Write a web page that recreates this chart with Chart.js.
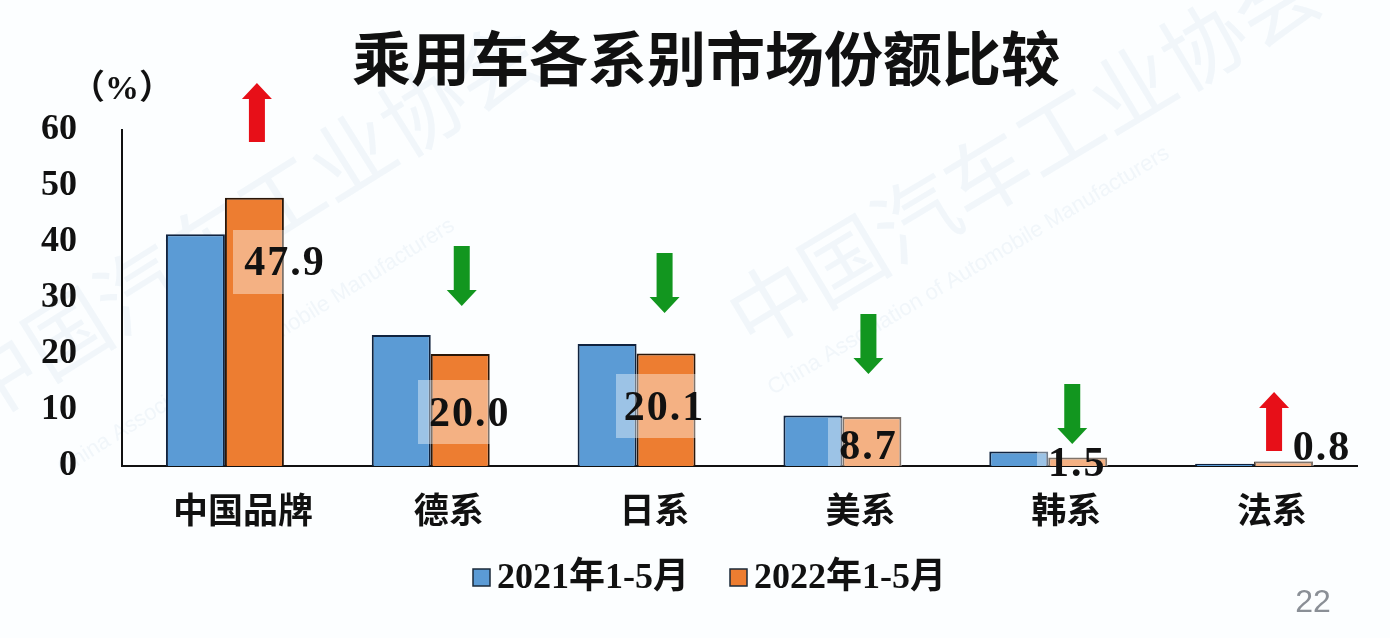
<!DOCTYPE html>
<html>
<head>
<meta charset="utf-8">
<title>乘用车各系别市场份额比较</title>
<script src="https://cdn.jsdelivr.net/npm/chart.js@4"></script>
<style>
  body { margin: 0; background: #fcfeff; }
  canvas { display: block; }
</style>
</head>
<body>
<canvas id="shareChart" width="1390" height="638"></canvas>
<script>
const categories = ["中国品牌", "德系", "日系", "美系", "韩系", "法系"];
const share2021 = [41.4, 23.4, 21.8, 9.0, 2.6, 0.4];
const share2022 = [47.9, 20.0, 20.1, 8.7, 1.5, 0.8];
const trend = ["up", "down", "down", "down", "down", "up"];
const seriesNames = ["2021年1-5月", "2022年1-5月"];
const yTicks = [0, 10, 20, 30, 40, 50, 60];

const BLUE = "#5b9bd5";
const ORANGE = "#ed7d31";
const FONT_SERIF = '"Liberation Serif", "Noto Sans CJK SC"';

// offsets from each category centre (px) for the hand placed callouts
const labelSpots = [
  { dx: 60, y: 264, box: [233, 230, 52, 64] },
  { dx: 39, y: 415, box: [418, 380, 72, 64] },
  { dx: 28, y: 409, box: [616, 374, 80, 64] },
  { dx: 26, y: 448, box: [828, 418, 74, 48] },
  { dx: 29, y: 465, box: [1037, 450, 71, 16] },
  { dx: 68, y: 449, box: [1255, 462, 59, 4] },
];
const arrowSpots = [
  { dx: 32, top: 83, bottom: 142 },
  { dx: 31, top: 246, bottom: 306 },
  { dx: 28, top: 253, bottom: 313 },
  { dx: 26, top: 314, bottom: 374 },
  { dx: 24, top: 384, bottom: 444 },
  { dx: 20, top: 392, bottom: 451 },
];
const legendSpots = [
  { swatch: 473, text: 497, color: BLUE },
  { swatch: 730, text: 754, color: ORANGE },
];

function drawArrow(ctx, x, top, bottom, dir) {
  const shaft = 8, head = 15, headH = 16;
  ctx.fillStyle = dir === "up" ? "#e70f18" : "#12961f";
  ctx.beginPath();
  if (dir === "up") {
    ctx.moveTo(x, top);
    ctx.lineTo(x + head, top + headH);
    ctx.lineTo(x + shaft, top + headH);
    ctx.lineTo(x + shaft, bottom);
    ctx.lineTo(x - shaft, bottom);
    ctx.lineTo(x - shaft, top + headH);
    ctx.lineTo(x - head, top + headH);
  } else {
    ctx.moveTo(x, bottom);
    ctx.lineTo(x + head, bottom - headH);
    ctx.lineTo(x + shaft, bottom - headH);
    ctx.lineTo(x + shaft, top);
    ctx.lineTo(x - shaft, top);
    ctx.lineTo(x - shaft, bottom - headH);
    ctx.lineTo(x - head, bottom - headH);
  }
  ctx.closePath();
  ctx.fill();
}

function drawWatermark(ctx, text, x, y, angle, font, color) {
  ctx.save();
  ctx.translate(x, y);
  ctx.rotate(angle);
  ctx.font = font;
  ctx.fillStyle = color;
  ctx.textAlign = "left";
  ctx.textBaseline = "middle";
  ctx.fillText(text, 0, 0);
  ctx.restore();
}

const backdrop = {
  id: "backdrop",
  beforeDraw(chart) {
    const ctx = chart.ctx;
    const big = '84px "Noto Sans CJK SC"';
    const small = '22px "Liberation Sans"';
    const pale = "rgba(214,228,240,0.3)";
    ctx.save();
    ctx.fillStyle = "#fcfeff";
    ctx.fillRect(0, 0, chart.width, chart.height);
    drawWatermark(ctx, "中国汽车工业协会", -40, 400, -0.56, big, pale);
    drawWatermark(ctx, "中国汽车工业协会", 735, 325, -0.54, big, pale);
    drawWatermark(ctx, "China Association of Automobile Manufacturers", 770, 390, -0.54, small, pale);
    drawWatermark(ctx, "China Association of Automobile Manufacturers", 60, 470, -0.56, small, pale);
    ctx.restore();
  },
};

const callouts = {
  id: "callouts",
  afterDatasetsDraw(chart) {
    const ctx = chart.ctx;
    const x = chart.scales.x;
    ctx.save();

    labelSpots.forEach((spot) => {
      ctx.fillStyle = "rgba(255,255,255,0.4)";
      ctx.fillRect(spot.box[0], spot.box[1], spot.box[2], spot.box[3]);
    });

    arrowSpots.forEach((spot, i) => {
      drawArrow(ctx, x.getPixelForValue(i) + spot.dx, spot.top, spot.bottom, trend[i]);
    });

    ctx.font = "bold 42px " + FONT_SERIF;
    ctx.letterSpacing = "2px";
    ctx.fillStyle = "#111";
    ctx.textAlign = "center";
    ctx.textBaseline = "middle";
    share2022.forEach((v, i) => {
      ctx.fillText(v.toFixed(1), x.getPixelForValue(i) + labelSpots[i].dx, labelSpots[i].y);
    });
    ctx.letterSpacing = "0px";

    ctx.font = 'bold 59px "Noto Sans CJK SC"';
    ctx.fillText("乘用车各系别市场份额比较", 706, 59);

    ctx.font = "bold 34px " + FONT_SERIF;
    ctx.fillText("（%）", 122, 90);

    ctx.textAlign = "left";
    ctx.font = "bold 36px " + FONT_SERIF;
    legendSpots.forEach((item, i) => {
      ctx.fillStyle = item.color;
      ctx.strokeStyle = "#1a2a3a";
      ctx.lineWidth = 1.5;
      ctx.fillRect(item.swatch, 569, 17, 17);
      ctx.strokeRect(item.swatch, 569, 17, 17);
      ctx.fillStyle = "#111";
      ctx.fillText(seriesNames[i], item.text, 579);
    });

    ctx.textAlign = "center";
    ctx.font = '32px "Liberation Sans"';
    ctx.fillStyle = "#8a8f96";
    ctx.fillText("22", 1313, 603);
    ctx.restore();
  },
};

new Chart(document.getElementById("shareChart"), {
  type: "bar",
  data: {
    labels: categories,
    datasets: [
      {
        label: seriesNames[0],
        data: share2021,
        backgroundColor: BLUE,
        borderColor: "#10233f",
        borderWidth: 2,
      },
      {
        label: seriesNames[1],
        data: share2022,
        backgroundColor: ORANGE,
        borderColor: "#2a1608",
        borderWidth: 2,
      },
    ],
  },
  plugins: [backdrop, callouts],
  options: {
    responsive: false,
    animation: false,
    devicePixelRatio: 1,
    layout: { padding: { left: 30, right: 33, top: 130, bottom: 0 } },
    datasets: { bar: { categoryPercentage: 0.573, barPercentage: 1 } },
    scales: {
      x: {
        grid: { display: false, drawTicks: false },
        border: { color: "#111", width: 2 },
        ticks: {
          padding: 23,
          labelOffset: 18,
          color: "#111",
          font: { family: '"Noto Sans CJK SC"', size: 35, weight: "bold" },
        },
        afterFit(scale) { scale.height = 172; },
      },
      y: {
        min: 0,
        max: 60,
        grid: { display: false, drawTicks: false },
        border: { color: "#111", width: 2 },
        afterBuildTicks(scale) { scale.ticks = yTicks.map((value) => ({ value })); },
        ticks: {
          padding: 45,
          color: "#111",
          font: { family: FONT_SERIF, size: 36, weight: "bold" },
        },
        afterFit(scale) { scale.width = 92; },
      },
    },
    plugins: {
      tooltip: { enabled: false },
      title: { display: false },
      legend: { display: false },
    },
  },
});
</script>
</body>
</html>
